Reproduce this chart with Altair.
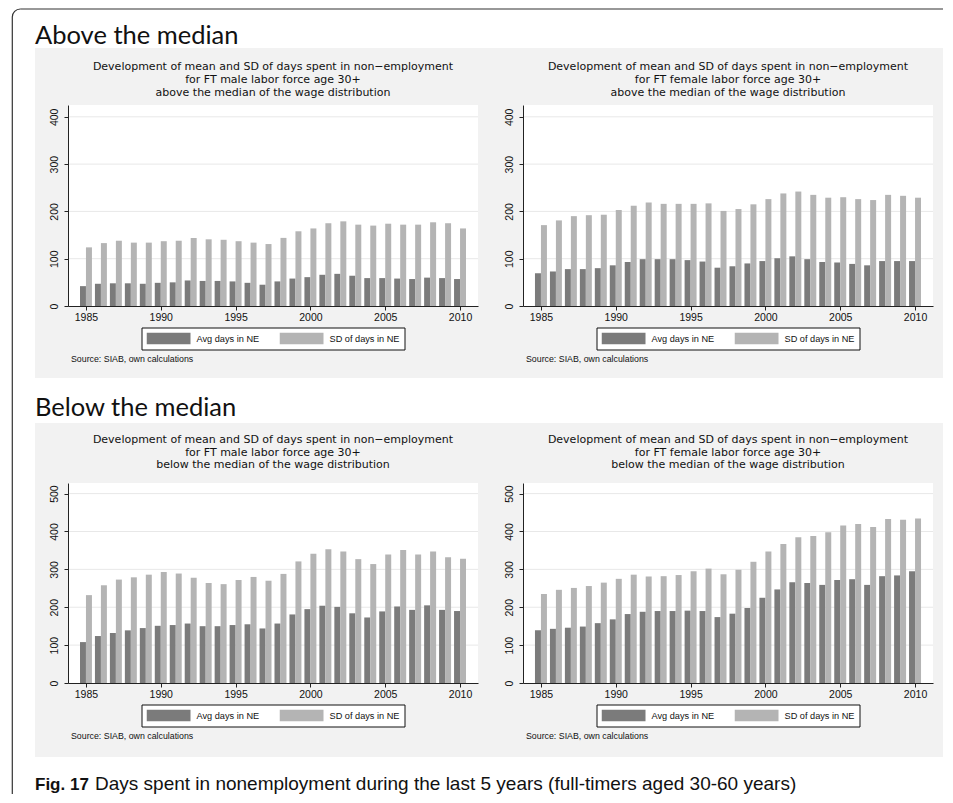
import altair as alt
import pandas as pd

# ---------------- data ----------------
years = list(range(1985, 2011))

male_above_avg = [42, 47, 48, 48, 47, 49, 50, 54, 53, 53, 52, 49, 45, 52, 58, 61, 66, 68, 64, 59, 59, 58, 57, 60, 59, 57]
male_above_sd = [124, 133, 138, 134, 134, 137, 138, 144, 141, 140, 137, 134, 131, 144, 158, 164, 175, 179, 172, 170, 174, 172, 172, 177, 175, 164]

female_above_avg = [69, 73, 78, 78, 80, 86, 93, 99, 99, 99, 97, 94, 81, 84, 90, 95, 101, 105, 99, 93, 92, 89, 86, 95, 95, 95]
female_above_sd = [171, 181, 190, 192, 193, 203, 212, 219, 216, 216, 216, 217, 201, 205, 215, 226, 238, 242, 235, 229, 230, 226, 224, 235, 233, 229]

male_below_avg = [108, 124, 132, 139, 145, 151, 153, 157, 150, 150, 153, 155, 144, 157, 181, 195, 204, 201, 184, 173, 189, 202, 193, 205, 193, 190]
male_below_sd = [232, 258, 273, 279, 286, 293, 289, 278, 264, 261, 272, 280, 270, 288, 321, 341, 353, 347, 327, 314, 339, 351, 339, 347, 332, 328]

female_below_avg = [139, 143, 146, 149, 158, 168, 182, 188, 190, 190, 191, 190, 174, 183, 198, 225, 247, 266, 264, 259, 272, 274, 259, 282, 284, 295]
female_below_sd = [235, 246, 251, 256, 265, 275, 286, 281, 282, 285, 295, 302, 287, 299, 320, 347, 367, 385, 388, 398, 416, 420, 412, 433, 431, 434]

series_names = ["Avg days in NE", "SD of days in NE"]
x_ticks = [1985, 1990, 1995, 2000, 2005, 2010]
y_ticks_top = [0, 100, 200, 300, 400]
y_ticks_bottom = [0, 100, 200, 300, 400, 500]

title_line1 = "Development of mean and SD of days spent in non\u2212employment"
title_male = "for FT male labor force age 30+"
title_female = "for FT female labor force age 30+"
title_above = "above the median of the wage distribution"
title_below = "below the median of the wage distribution"
source_text = "Source: SIAB, own calculations"
heading_above = "Above the median"
heading_below = "Below the median"
caption_bold = "Fig. 17"
caption_text = "Days spent in nonemployment during the last 5 years (full-timers aged 30-60 years)"

# ---------------- style ----------------
DARK = "#7b7b7b"
LIGHT = "#b4b4b4"
PANEL_BG = "#f2f2f2"
GRID = "#e8e8e8"
FONT = "Liberation Sans"
TITLE_FONT = "DejaVu Sans"
TITLE_SIZE = 11
TITLE_STEP = 12.9
W = 410
H_TOP = 201
H_BOT = 200
ONE = alt.Data(values=[{"k": 1}])


def deco_rect(x, x2, y, y2, color, opacity=1):
    return alt.Chart(ONE).mark_rect(color=color, opacity=opacity).encode(
        x=alt.value(x), x2=alt.value(x2), y=alt.value(y), y2=alt.value(y2)
    )


def text_at(txt, x, y, size, align="center", font=FONT, weight="normal", color="#111",
            baseline="middle"):
    return alt.Chart(ONE).mark_text(
        text=txt, align=align, baseline=baseline, font=font, fontSize=size,
        fontWeight=weight, color=color,
    ).encode(x=alt.value(x), y=alt.value(y))


def panel(avg, sd, line2, line3, ymax, yticks, H, bg, title_mid):
    df = pd.DataFrame({
        "year": years * 2,
        "series": [series_names[0]] * len(years) + [series_names[1]] * len(years),
        "days": avg + sd,
    })
    grid_df = pd.DataFrame({"days": yticks[1:]})
    xscale = alt.Scale(domain=[1983.8, 2011.2], nice=False, zero=False)
    yscale = alt.Scale(domain=[0, ymax], nice=False, zero=True)
    xaxis = alt.Axis(
        values=x_ticks, format="d", title=None, grid=False, labelFont=FONT,
        labelFontSize=10.5, labelColor="#111", tickColor="#222", domainColor="#222",
        tickSize=4, labelPadding=2, labelFlush=False, zindex=1,
    )
    yaxis = alt.Axis(
        values=yticks, title=None, grid=False, labelFont=FONT, labelFontSize=10.5,
        labelColor="#111", tickColor="#222", domainColor="#222", tickSize=4,
        labelAngle=270, labelAlign="center", labelBaseline="bottom", labelPadding=5,
        zindex=1,
    )
    bgl, bgr, bgt, bgb = bg
    background = deco_rect(bgl, W + bgr, bgt, H + bgb, PANEL_BG)
    plot_bg = deco_rect(0, W, 0, H, "white")
    grid = alt.Chart(grid_df).mark_rule(color=GRID, strokeWidth=1).encode(
        y=alt.Y("days:Q", scale=yscale, axis=yaxis)
    )
    bars = alt.Chart(df).transform_calculate(
        x0=f"datum.series == '{series_names[0]}' ? datum.year - 0.4 : datum.year",
        x1=f"datum.series == '{series_names[0]}' ? datum.year : datum.year + 0.4",
    ).mark_bar().encode(
        x=alt.X("x0:Q", scale=xscale, axis=xaxis),
        x2="x1:Q",
        y=alt.Y("days:Q", scale=yscale, axis=yaxis),
        y2=alt.datum(0),
        color=alt.Color(
            "series:N",
            scale=alt.Scale(domain=series_names, range=[DARK, LIGHT]),
            title=None,
            legend=alt.Legend(
                orient="none", legendX=73.5, legendY=H + 21.5, direction="horizontal",
                symbolType="M-1,-0.27H1V0.27H-1Z", symbolSize=1936, symbolStrokeWidth=0,
                symbolOpacity=1, labelFont=FONT, labelFontSize=9.2, labelColor="#111",
                labelOffset=6, columnPadding=20, padding=5, strokeColor="#111",
                fillColor="white", clipHeight=12, labelLimit=200, zindex=1,
            ),
        ),
    )
    t1 = text_at(title_line1, W / 2, title_mid - TITLE_STEP, TITLE_SIZE, font=TITLE_FONT)
    t2 = text_at(line2, W / 2, title_mid, TITLE_SIZE, font=TITLE_FONT)
    t3 = text_at(line3, W / 2, title_mid + TITLE_STEP, TITLE_SIZE, font=TITLE_FONT)
    src = text_at(source_text, 3, H + 53, 8.8, align="left")
    return alt.layer(background, plot_bg, grid, bars, t1, t2, t3, src).properties(
        width=W, height=H
    )


def empty(h):
    return deco_rect(0, 0, 0, 0, "white", opacity=0).properties(width=W, height=h)


# Row 0: border frame + heading
H0 = 96
border_color = "#333"
left_x = -55.7
frame_top = alt.Chart(ONE).mark_rule(color=border_color, strokeWidth=1.2).encode(
    x=alt.value(left_x + 8), x2=alt.value(875), y=alt.value(0)
)
frame_left = alt.Chart(ONE).mark_rule(color=border_color, strokeWidth=1.2).encode(
    x=alt.value(left_x), y=alt.value(8), y2=alt.value(785)
)
frame_corner = alt.Chart(ONE).mark_arc(
    color=border_color, radius=8.6, radius2=7.4, theta=4.712, theta2=6.2832
).encode(x=alt.value(left_x + 8), y=alt.value(8))
head1 = text_at(heading_above, -33, 34.5, 25.5, align="left", font="Lato",
                baseline="alphabetic")
row0 = alt.layer(frame_top, frame_left, frame_corner, head1).properties(width=W, height=H0)

top_left = panel(male_above_avg, male_above_sd, title_male, title_above, 425, y_ticks_top,
                 H_TOP, (-33, 22, -57, 72), -25)
top_right = panel(female_above_avg, female_above_sd, title_female, title_above, 425, y_ticks_top,
                  H_TOP, (-23, 10, -57, 72), -25)

H2 = 177
head2 = text_at(heading_below, -33, 110, 25.5, align="left", font="Lato",
                baseline="alphabetic").properties(width=W, height=H2)

bottom_left = panel(male_below_avg, male_below_sd, title_male, title_below, 528, y_ticks_bottom,
                    H_BOT, (-33, 22, -60, 74), -30.5)
bottom_right = panel(female_below_avg, female_below_sd, title_female, title_below, 528, y_ticks_bottom,
                     H_BOT, (-23, 10, -60, 74), -30.5)

cap1 = text_at(caption_bold, -33, 107, 17, align="left", weight="bold",
               baseline="alphabetic")
cap2 = text_at(caption_text, 27, 107, 19, align="left", baseline="alphabetic")
row4 = alt.layer(cap1, cap2).properties(width=W, height=1)

chart = alt.concat(
    row0, empty(H0),
    top_left, top_right,
    head2, empty(H2),
    bottom_left, bottom_right,
    row4, empty(1),
    columns=2,
    bounds="flush",
    spacing={"row": 0, "column": 45},
).resolve_scale(
    x="independent", y="independent", color="independent"
).properties(
    padding={"left": 3, "top": 0, "right": 0, "bottom": 0},
    background="white",
).configure_view(strokeWidth=0)

chart.save("out.html", embed_options={"renderer": "svg", "actions": False})
